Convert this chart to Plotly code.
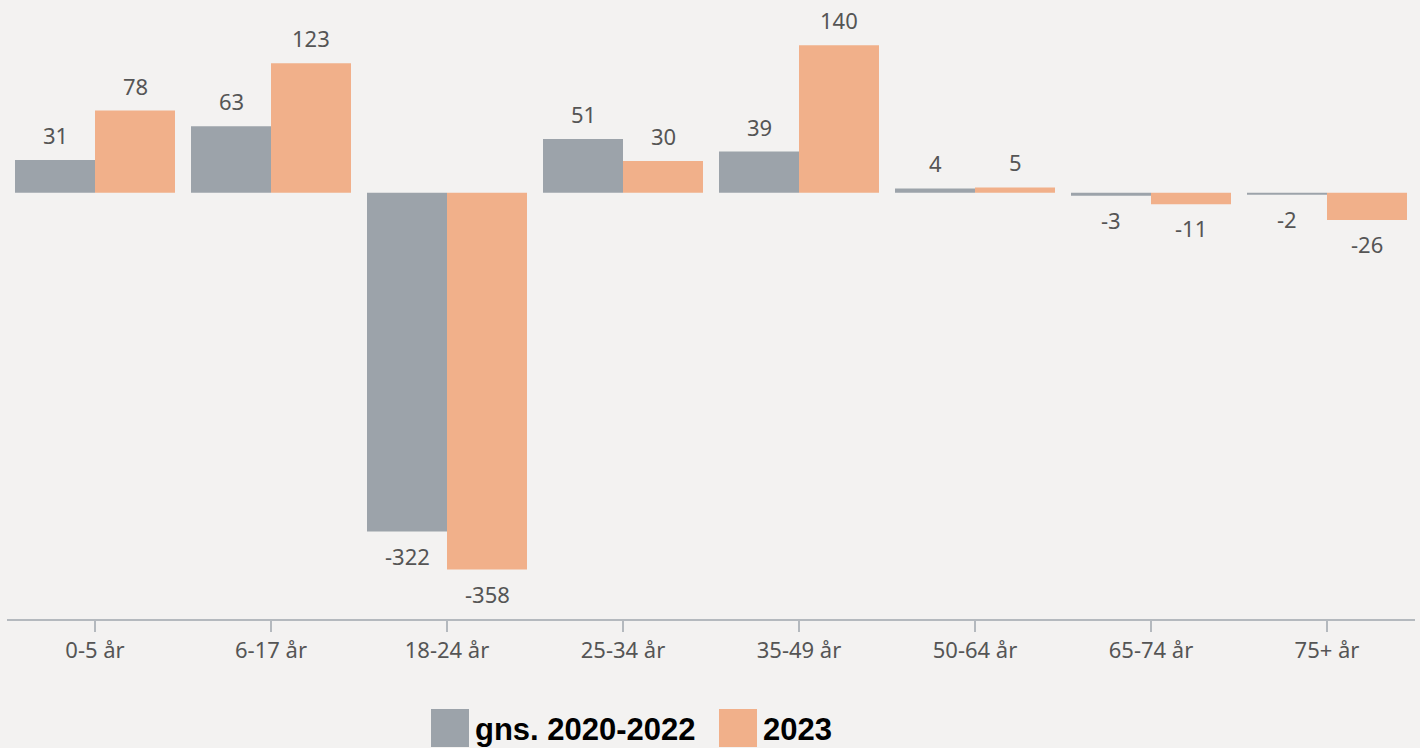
import plotly.graph_objects as go

categories = ["0-5 år", "6-17 år", "18-24 år", "25-34 år", "35-49 år", "50-64 år", "65-74 år", "75+ år"]
series_names = ["gns. 2020-2022", "2023"]
avg_2020_2022 = [31, 63, -322, 51, 39, 4, -3, -2]
values_2023 = [78, 123, -358, 30, 140, 5, -11, -26]

GRAY = "#9ca3aa"
ORANGE = "#f1b08a"
BG = "#f3f2f1"
TXT = "#555555"
FONT = "Noto Sans"
PH = 619.0  # plot height in px
PW = 1408.0

fig = go.Figure()
fig.add_trace(go.Bar(x=categories, y=avg_2020_2022, name=series_names[0], marker_color=GRAY, marker_line_width=0))
fig.add_trace(go.Bar(x=categories, y=values_2023, name=series_names[1], marker_color=ORANGE, marker_line_width=0))

annotations = []
for vals, xs in ((avg_2020_2022, -40), (values_2023, 40)):
    for c, v in zip(categories, vals):
        annotations.append(dict(x=c, y=v, xref="x", yref="y", text=str(v), showarrow=False,
                                xshift=xs, yshift=25 if v >= 0 else -24, yanchor="middle",
                                font=dict(family=FONT, size=22, color=TXT)))

# manual legend (paper coordinates)
leg = [((431 - 7) / PW, GRAY, series_names[0]), ((719 - 7) / PW, ORANGE, series_names[1])]
shapes = []
for x0, col, name in leg:
    shapes.append(dict(type="rect", xref="paper", yref="paper", x0=x0, x1=x0 + 38 / PW,
                       y0=(PH - 709) / PH, y1=(PH - 747) / PH, fillcolor=col, line_width=0, layer="above"))
    annotations.append(dict(x=x0 + 42 / PW, y=(PH - 729) / PH, xref="paper", yref="paper", text="<b>%s</b>" % name,
                            showarrow=False, xanchor="left", yanchor="middle",
                            font=dict(family="Liberation Sans", size=31, color="#000000")))

fig.update_layout(
    width=1420, height=748,
    paper_bgcolor=BG, plot_bgcolor=BG,
    margin=dict(l=7, r=5, t=0, b=129),
    barmode="group", bargap=0.091, bargroupgap=0,
    showlegend=False,
    annotations=annotations, shapes=shapes,
    font=dict(family=FONT, size=22, color=TXT),
)
fig.update_xaxes(showline=True, linecolor="#b4b9be", linewidth=2, ticks="outside", ticklen=11,
                 tickcolor="#b4b9be", tickwidth=2, showgrid=False, tickfont=dict(family=FONT, size=22, color=TXT))
fig.update_yaxes(range=[-405, 183], visible=False, showgrid=False, zeroline=False)

fig.write_html("out.html", config={"displayModeBar": False},
               post_script="document.body.style.margin='0';document.body.style.padding='0';document.body.style.overflow='hidden';")
